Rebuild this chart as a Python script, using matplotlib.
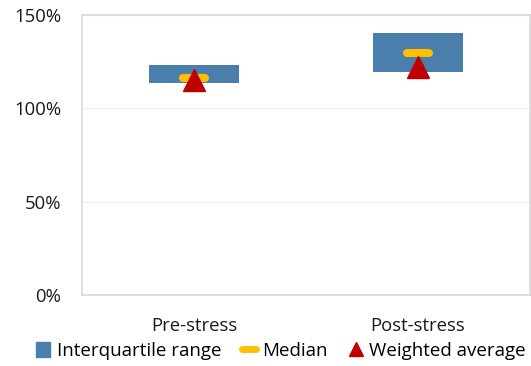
import matplotlib.pyplot as plt
from matplotlib.lines import Line2D
from matplotlib.patches import Patch

plt.rcParams["font.family"] = ["Open Sans", "DejaVu Sans"]

categories = ["Pre-stress", "Post-stress"]
iqr_low = [113.5, 119.5]
iqr_high = [123.2, 140.3]
median = [116.0, 129.6]
weighted_avg = [115.0, 122.0]

BLUE = "#4A7EAC"
YELLOW = "#FFC000"
RED = "#C00000"
GRID = "#D9D9D9"

fig = plt.figure(figsize=(5.31, 3.66), dpi=100)
ax = fig.add_axes([82 / 531, 1 - 295 / 366, 448 / 531, 280 / 366])

x = list(range(len(categories)))
heights = [h - l for l, h in zip(iqr_low, iqr_high)]
ax.bar(x, heights, bottom=iqr_low, width=0.4, color=BLUE, zorder=2)
ax.hlines(median, [i - 0.05 for i in x], [i + 0.05 for i in x],
          color=YELLOW, lw=5.8, capstyle="round", zorder=3)
ax.plot(x, weighted_avg, linestyle="none", marker="^", markersize=16,
        color=RED, zorder=4)

ax.set_xlim(-0.5, 1.5)
ax.set_ylim(0, 150)
ax.set_yticks([0, 50, 100, 150])
ax.set_yticklabels(["0%", "50%", "100%", "150%"])
ax.set_xticks(x)
ax.set_xticklabels(categories)
ax.tick_params(length=0, labelsize=13.3, colors="#1a1a1a")
ax.tick_params(axis="x", pad=16)
ax.tick_params(axis="y", pad=15)
ax.grid(axis="y", color="#F0F0F0", lw=1, zorder=0)
for s in ax.spines.values():
    s.set_color(GRID)
    s.set_linewidth(1.2)

handles = [
    Patch(color=BLUE, label="Interquartile range"),
    Line2D([0], [0], color=YELLOW, lw=5, solid_capstyle="round", label="Median"),
    Line2D([0], [0], color=RED, marker="^", linestyle="none", markersize=10,
           label="Weighted average"),
]
fig.legend(handles=handles, loc="center", bbox_to_anchor=(281 / 531, 1 - 351 / 366),
           ncol=3, frameon=False, fontsize=13.5, handlelength=0.75, handleheight=0.8,
           handletextpad=0.35, columnspacing=1.1, borderaxespad=0)

fig.savefig("out.png", dpi=100)
